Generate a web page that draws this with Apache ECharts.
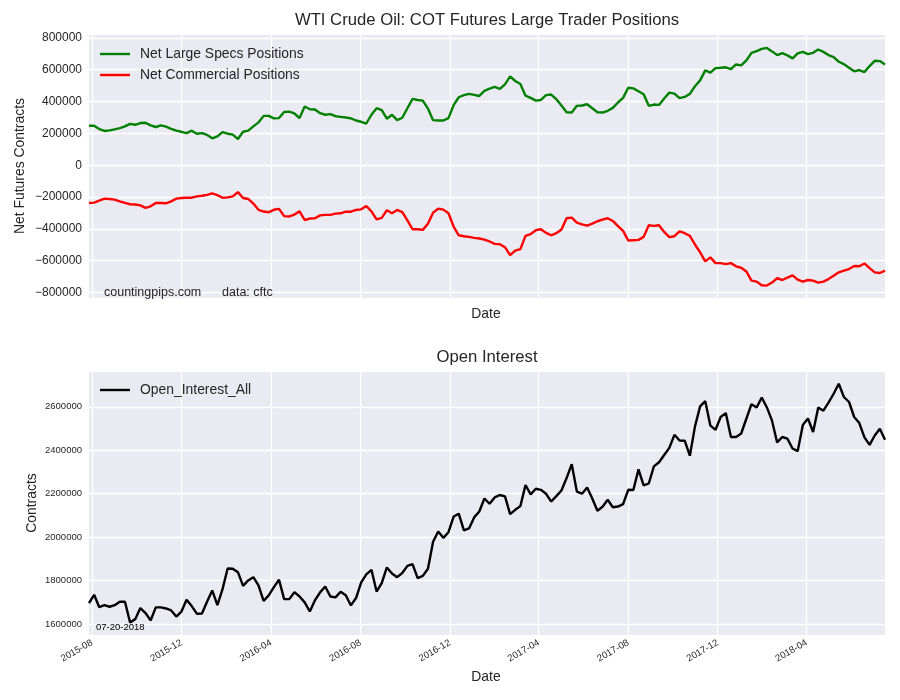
<!DOCTYPE html>
<html><head><meta charset="utf-8">
<script src="https://cdn.jsdelivr.net/npm/echarts@6/dist/echarts.min.js"></script>
<style>html,body{margin:0;padding:0;background:#fff}#c{width:900px;height:700px}</style>
</head><body><div id="c"></div>
<script>
// weekly report dates start on this Tuesday
const startDate = [2015, 7, 28];
const weekCount = 156;

const specs = [
 248000,248000,227000,215000,219000,225000,233000,244000,260000,254000,
 265000,267000,250000,240000,250000,242000,229000,217000,210000,202000,
 217000,198000,202000,190000,169000,181000,208000,198000,192000,165000,
 210000,217000,244000,269000,310000,310000,294000,296000,335000,337000,
 325000,296000,369000,352000,350000,327000,317000,321000,308000,304000,
 300000,294000,281000,273000,262000,317000,358000,346000,292000,317000,
 283000,298000,358000,417000,410000,406000,356000,283000,281000,281000,
 296000,377000,427000,440000,448000,442000,435000,467000,481000,492000,
 479000,508000,558000,529000,510000,437000,423000,406000,410000,440000,
 444000,415000,375000,333000,331000,373000,375000,383000,358000,333000,
 331000,342000,360000,394000,423000,487000,483000,465000,446000,373000,
 381000,379000,419000,456000,450000,421000,429000,448000,496000,533000,
 596000,581000,610000,612000,615000,604000,633000,627000,658000,706000,
 717000,731000,737000,715000,692000,704000,690000,671000,702000,712000,
 698000,706000,727000,712000,692000,679000,650000,635000,612000,590000,
 598000,585000,623000,656000,654000,633000
];

const commercial = [
 -237000,-235000,-223000,-210000,-212000,-216000,-227000,-237000,-245000,-247000,
 -252000,-268000,-258000,-237000,-237000,-239000,-227000,-210000,-206000,-204000,
 -204000,-196000,-192000,-186000,-177000,-188000,-204000,-202000,-196000,-169000,
 -206000,-212000,-241000,-280000,-291000,-295000,-280000,-274000,-320000,-322000,
 -310000,-290000,-344000,-335000,-333000,-315000,-312000,-312000,-304000,-302000,
 -292000,-292000,-281000,-277000,-256000,-290000,-340000,-331000,-283000,-302000,
 -281000,-294000,-346000,-402000,-402000,-406000,-367000,-298000,-273000,-279000,
 -302000,-385000,-440000,-446000,-450000,-456000,-460000,-467000,-479000,-494000,
 -496000,-515000,-565000,-537000,-527000,-444000,-433000,-408000,-402000,-425000,
 -440000,-427000,-404000,-333000,-329000,-360000,-371000,-379000,-367000,-352000,
 -342000,-333000,-350000,-383000,-412000,-473000,-471000,-469000,-450000,-377000,
 -381000,-377000,-419000,-452000,-446000,-415000,-427000,-444000,-498000,-548000,
 -604000,-579000,-615000,-615000,-621000,-615000,-635000,-644000,-667000,-725000,
 -731000,-754000,-756000,-737000,-710000,-721000,-706000,-692000,-719000,-731000,
 -721000,-725000,-737000,-731000,-715000,-694000,-673000,-662000,-652000,-633000,
 -635000,-617000,-646000,-673000,-677000,-662000
];

const openInterest = [
 1697000,1735000,1678000,1687000,1680000,1687000,1703000,1703000,1608000,1623000,
 1674000,1651000,1617000,1677000,1677000,1672000,1663000,1635000,1658000,1712000,
 1683000,1648000,1649000,1704000,1755000,1687000,1761000,1856000,1855000,1839000,
 1776000,1801000,1816000,1778000,1707000,1732000,1770000,1804000,1715000,1715000,
 1747000,1727000,1700000,1658000,1710000,1746000,1773000,1727000,1723000,1749000,
 1733000,1686000,1720000,1792000,1829000,1850000,1750000,1789000,1861000,1833000,
 1816000,1835000,1868000,1876000,1812000,1822000,1855000,1979000,2026000,1997000,
 2023000,2095000,2108000,2031000,2040000,2091000,2118000,2178000,2154000,2183000,
 2194000,2188000,2106000,2126000,2143000,2240000,2197000,2223000,2218000,2200000,
 2164000,2189000,2215000,2272000,2336000,2210000,2200000,2229000,2178000,2122000,
 2140000,2172000,2138000,2141000,2152000,2218000,2217000,2312000,2238000,2247000,
 2326000,2345000,2378000,2411000,2471000,2445000,2444000,2375000,2510000,2602000,
 2626000,2513000,2494000,2553000,2571000,2461000,2461000,2477000,2545000,2612000,
 2597000,2643000,2597000,2536000,2436000,2461000,2453000,2408000,2396000,2516000,
 2546000,2484000,2597000,2582000,2619000,2660000,2706000,2645000,2622000,2553000,
 2525000,2459000,2425000,2468000,2499000,2448000
];

const tickMonths = ['2015-08','2015-12','2016-04','2016-08','2016-12','2017-04','2017-08','2017-12','2018-04'];
const topTicks = [-800000,-600000,-400000,-200000,0,200000,400000,600000,800000];
const oiTicks = [1600000,1800000,2000000,2200000,2400000,2600000];

const DAY = 86400000;
const t0 = Date.UTC(startDate[0], startDate[1]-1, startDate[2]);
const dates = [];
for (let i = 0; i < weekCount; i++) dates.push(t0 + i*7*DAY);
const tickTs = tickMonths.map(s => Date.UTC(+s.slice(0,4), +s.slice(5,7)-1, 1));

const FONT = "'Liberation Sans', Arial, sans-serif";
const TXT = '#262626';
const pair = (arr) => arr.map((v,i) => [dates[i], v]);
const fmtMonth = (v) => { const d = new Date(v); const m = d.getUTCMonth()+1; return d.getUTCFullYear() + '-' + (m<10?'0':'') + m; };
const fmtNum = (v) => v < 0 ? '\u2212' + Math.abs(v) : String(v);

const chart = echarts.init(document.getElementById('c'), null, {renderer:'canvas'});
const grid = { show:true, backgroundColor:'#EAEAF2', borderWidth:0, left:89, right:15 };
const split = { show:true, lineStyle:{ color:'#ffffff', width:1.3, type:'solid' } };

function xAx(idx, labels){
  return { type:'value', gridIndex:idx, min:dates[0], max:dates[dates.length-1], scale:true,
    axisLine:{show:false}, axisTick:{show:false, customValues:tickTs},
    axisLabel:{ show:labels, customValues:tickTs, formatter:fmtMonth, rotate:30, margin:7,
      fontSize:9.5, color:TXT, fontFamily:FONT, hideOverlap:false },
    splitLine:split };
}

function txt(x, y, text, size, align, rot, fill){
  const o = { type:'text', x:x, y:y, z:100, zlevel:0,
    style:{ text:text, font:size+'px '+FONT, fill:fill||TXT, textAlign:align, align:align,
      textVerticalAlign:'middle', verticalAlign:'middle' } };
  if (rot) o.rotation = rot;
  return o;
}

chart.setOption({
  animation:false,
  backgroundColor:'#ffffff',
  title:[
    { text:'WTI Crude Oil: COT Futures Large Trader Positions', left:487, top:12, textAlign:'center', padding:0,
      textStyle:{ fontSize:16.7, fontWeight:'normal', color:TXT, fontFamily:FONT } },
    { text:'Open Interest', left:487, top:349, textAlign:'center', padding:0,
      textStyle:{ fontSize:16.7, fontWeight:'normal', color:TXT, fontFamily:FONT } }
  ],
  legend:[
    { data:['Net Large Specs Positions','Net Commercial Positions'], orient:'vertical',
      left:100, top:46, itemWidth:30, itemHeight:2.4, itemGap:5, icon:'rect', padding:0,
      textStyle:{ fontSize:13.9, color:TXT, fontFamily:FONT, lineHeight:16, padding:[0,0,0,5] } },
    { data:['Open_Interest_All'], orient:'vertical', left:100, top:382, itemWidth:30, itemHeight:2.4, icon:'rect', padding:0,
      textStyle:{ fontSize:13.9, color:TXT, fontFamily:FONT, lineHeight:16, padding:[0,0,0,5] } }
  ],
  grid:[ Object.assign({}, grid, {top:35, bottom:402}), Object.assign({}, grid, {top:372, bottom:65}) ],
  xAxis:[ xAx(0,false), xAx(1,true) ],
  yAxis:[
    { type:'value', gridIndex:0, min:-834000, max:818000,
      axisLine:{show:false}, axisTick:{show:false, customValues:topTicks},
      axisLabel:{ customValues:topTicks, formatter:fmtNum, margin:7, fontSize:12, color:TXT, fontFamily:FONT },
      splitLine:split },
    { type:'value', gridIndex:1, min:1550000, max:2760000,
      axisLine:{show:false}, axisTick:{show:false, customValues:oiTicks},
      axisLabel:{ customValues:oiTicks, formatter:fmtNum, margin:7, fontSize:9.5, color:TXT, fontFamily:FONT },
      splitLine:split }
  ],
  series:[
    { name:'Net Large Specs Positions', type:'line', xAxisIndex:0, yAxisIndex:0, data:pair(specs),
      showSymbol:false, symbol:'none', color:'#008000', lineStyle:{color:'#008000', width:2.4}, emphasis:{disabled:true} },
    { name:'Net Commercial Positions', type:'line', xAxisIndex:0, yAxisIndex:0, data:pair(commercial),
      showSymbol:false, symbol:'none', color:'#ff0000', lineStyle:{color:'#ff0000', width:2.4}, emphasis:{disabled:true} },
    { name:'Open_Interest_All', type:'line', xAxisIndex:1, yAxisIndex:1, data:pair(openInterest),
      showSymbol:false, symbol:'none', color:'#000000', lineStyle:{color:'#000000', width:2.4}, emphasis:{disabled:true} }
  ],
  graphic:[
    txt(104, 293, 'countingpips.com', 12.5, 'left'),
    txt(222, 293, 'data: cftc', 12.5, 'left'),
    txt(96, 627, '07-20-2018', 9.5, 'left', 0, '#000'),
    txt(486, 314, 'Date', 13.9, 'center'),
    txt(486, 677, 'Date', 13.9, 'center'),
    txt(20, 166, 'Net Futures Contracts', 13.9, 'center', Math.PI/2),
    txt(32, 503, 'Contracts', 13.9, 'center', Math.PI/2)
  ]
});
</script></body></html>
